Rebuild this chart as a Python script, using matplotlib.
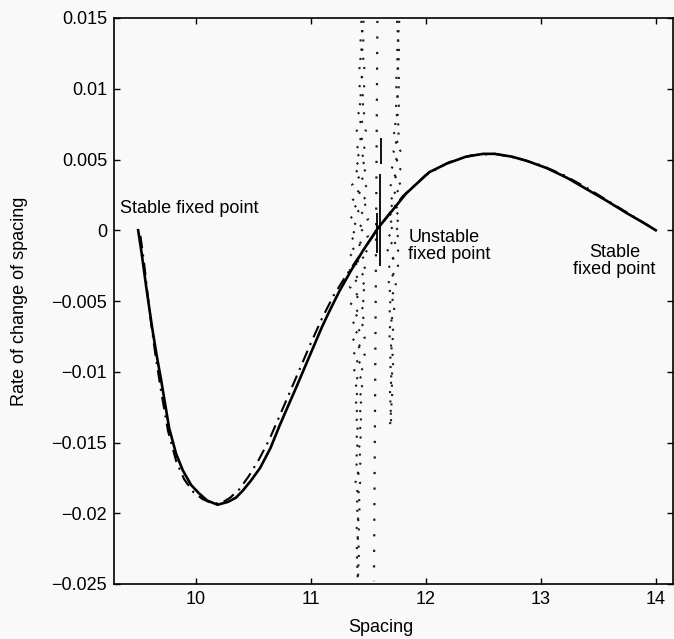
import matplotlib
matplotlib.use("Agg")
import matplotlib.pyplot as plt

plt.rcParams['font.family'] = ['Liberation Sans', 'DejaVu Sans']

# ---- data ----
solid_x = [9.50, 9.53, 9.57, 9.62, 9.66, 9.70, 9.77, 9.83, 9.89, 9.96, 10.03, 10.10, 10.19,
           10.28, 10.35, 10.41, 10.48, 10.56, 10.65, 10.73, 10.81, 10.88, 11.00, 11.10, 11.17,
           11.25, 11.34, 11.45, 11.58, 11.70, 11.83, 11.95, 12.03, 12.18, 12.35, 12.50, 12.60,
           12.75, 12.88, 13.05, 13.23, 13.40, 13.57, 13.75, 13.90, 14.00]
solid_y = [0.0000, -0.0016, -0.0040, -0.0068, -0.0088, -0.0106, -0.0140, -0.0158, -0.0170,
           -0.0180, -0.0186, -0.0191, -0.0194, -0.0192, -0.0189, -0.0184, -0.0177, -0.0168,
           -0.0154, -0.0138, -0.0123, -0.0110, -0.0087, -0.0068, -0.0056, -0.0043, -0.0030,
           -0.0015, 0.0001, 0.0013, 0.0026, 0.0035, 0.0041, 0.0047, 0.0052, 0.0054, 0.0054,
           0.0052, 0.0049, 0.0044, 0.0037, 0.0029, 0.0021, 0.0012, 0.0005, 0.0000]

dashdot_x = [9.52, 9.55, 9.60, 9.65, 9.70, 9.76, 9.83, 9.90, 9.98, 10.06, 10.14, 10.22, 10.30,
             10.38, 10.46, 10.55, 10.64, 10.72, 10.80, 10.90, 11.00, 11.10, 11.20, 11.30, 11.45,
             11.60, 11.80, 12.00, 12.20, 12.40, 12.60, 12.80, 13.00, 13.20, 13.40, 13.60, 13.80,
             14.00]
dashdot_y = [-0.0004, -0.0022, -0.0058, -0.0088, -0.0114, -0.0142, -0.0163, -0.0176, -0.0185,
             -0.0190, -0.0193, -0.0193, -0.0189, -0.0183, -0.0174, -0.0162, -0.0148, -0.0133,
             -0.0118, -0.0099, -0.0080, -0.0062, -0.0046, -0.0033, -0.0015, 0.0003, 0.0024,
             0.0039, 0.0048, 0.0053, 0.0054, 0.0051, 0.0046, 0.0039, 0.0030, 0.0020, 0.0010,
             0.0000]

# left oscillating trajectories (dotted, two interleaved runs forming crosses)
zigA_y = [0.0148, 0.0132, 0.0116, 0.0100, 0.0084, 0.0070, 0.0056, 0.0044, 0.0032, 0.0020,
          0.0008, -0.0004, -0.0016, -0.0028, -0.0040, -0.0052, -0.0064, -0.0076, -0.0088,
          -0.0100, -0.0112, -0.0124, -0.0136, -0.0148, -0.0162, -0.0178, -0.0194, -0.0210,
          -0.0226, -0.0248]
zigA1_x = [11.46, 11.43, 11.47, 11.42, 11.47, 11.40, 11.48, 11.38, 11.49, 11.35, 11.50, 11.34,
           11.50, 11.34, 11.49, 11.35, 11.48, 11.36, 11.47, 11.37, 11.46, 11.38, 11.45, 11.39,
           11.44, 11.39, 11.43, 11.40, 11.42, 11.41]
zigA2_x = [11.44, 11.46, 11.42, 11.47, 11.41, 11.48, 11.39, 11.49, 11.36, 11.50, 11.34, 11.50,
           11.33, 11.49, 11.34, 11.48, 11.36, 11.47, 11.37, 11.46, 11.38, 11.45, 11.39, 11.44,
           11.39, 11.43, 11.40, 11.42, 11.40, 11.41]

# middle straight dotted trajectory
midB_x = [11.58, 11.55]
midB_y = [0.0148, -0.0248]

# right oscillating trajectories (dotted)
zigC_y = [0.0148, 0.0124, 0.0104, 0.0086, 0.0070, 0.0056, 0.0043, 0.0031, 0.0020, 0.0009,
          -0.0002, -0.0013, -0.0025, -0.0038, -0.0054, -0.0072, -0.0092, -0.0114, -0.0138]
zigC1_x = [11.77, 11.75, 11.77, 11.74, 11.77, 11.72, 11.78, 11.69, 11.79, 11.67, 11.78, 11.66,
           11.76, 11.67, 11.73, 11.68, 11.72, 11.69, 11.70]
zigC2_x = [11.75, 11.77, 11.74, 11.77, 11.72, 11.78, 11.70, 11.79, 11.68, 11.78, 11.67, 11.77,
           11.68, 11.74, 11.68, 11.72, 11.69, 11.71, 11.69]

# short vertical solid segments near the unstable point
seg_x = [11.61, 11.60, 11.58]
seg_y0 = [0.0047, -0.0025, -0.0016]
seg_y1 = [0.0065, 0.0040, 0.0012]

xticks = [10, 11, 12, 13, 14]
yticks = [-0.025, -0.02, -0.015, -0.01, -0.005, 0, 0.005, 0.01, 0.015]
ytick_labels = ['\u22120.025', '\u22120.02', '\u22120.015', '\u22120.01', '\u22120.005',
                '0', '0.005', '0.01', '0.015']

bg = '#f9f9f9'
fig = plt.figure(figsize=(6.74, 6.39), dpi=100, facecolor=bg)
ax = fig.add_axes([114/674, 1-584/639, 559/674, 566/639], facecolor=bg)

dot_style = dict(color='#1a1a1a', lw=1.5, ls=(0, (1, 3.5)))
ax.plot(zigA1_x, zigA_y, **dot_style)
ax.plot(zigA2_x, zigA_y, **dot_style)
ax.plot(midB_x, midB_y, color='#1a1a1a', lw=1.6, ls=(0, (1, 6)))
ax.plot(zigC1_x, zigC_y, **dot_style)
ax.plot(zigC2_x, zigC_y, **dot_style)
ax.plot(dashdot_x, dashdot_y, color='black', lw=1.5, ls=(0, (6, 3, 1, 3)))
ax.plot(solid_x, solid_y, color='black', lw=1.9)
ax.vlines(seg_x, seg_y0, seg_y1, color='black', lw=1.3)

ax.set_xlim(9.29, 14.15)
ax.set_ylim(-0.025, 0.015)
ax.set_xticks(xticks)
ax.set_xticklabels([str(t) for t in xticks])
ax.set_yticks(yticks)
ax.set_yticklabels(ytick_labels)
ax.tick_params(direction='in', length=4, width=1, top=True, right=True,
               labelsize=13, pad=5)
for s in ax.spines.values():
    s.set_linewidth(1.2)

fs = 13
ax.text(9.34, 0.00154, 'Stable fixed point', fontsize=fs, ha='left', va='center')
ax.text(11.85, -0.00108, 'Unstable\nfixed point', fontsize=fs, ha='left', va='center',
        linespacing=1.0)
ax.text(13.64, -0.00214, 'Stable\nfixed point', fontsize=fs, ha='center', va='center',
        linespacing=1.0)

fig.text(381/674, 1-627/639, 'Spacing', fontsize=fs, ha='center', va='center')
fig.text(20/674, 1-301/639, 'Rate of change of spacing', fontsize=fs, ha='center',
         va='center', rotation=90)

fig.savefig('out.png', dpi=100, facecolor=bg)
